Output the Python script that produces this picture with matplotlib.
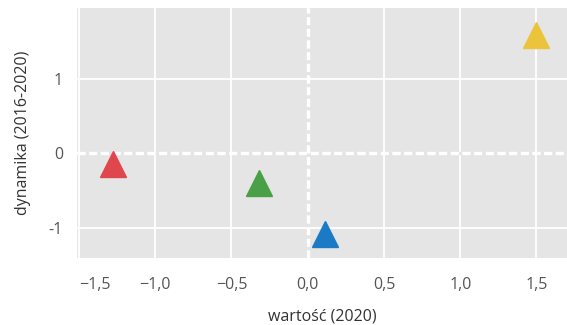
import matplotlib
matplotlib.use("Agg")
import matplotlib.pyplot as plt
from matplotlib.transforms import ScaledTranslation

plt.rcParams['font.family'] = ['Open Sans', 'DejaVu Sans']

# values
wartosc = [-1.28, -0.32, 0.11, 1.50]
dynamika = [-0.14, -0.40, -1.09, 1.59]
colors = ['#e0474c', '#4aa046', '#1a7ac6', '#ecc43c']

xticks = [-1.5, -1.0, -0.5, 0.0, 0.5, 1.0, 1.5]
xtick_labels = ['−1,5', '−1,0', '−0,5', '0,0', '0,5', '1,0', '1,5']
yticks = [-1, 0, 1]
ytick_labels = ['-1', '0', '1']

fig = plt.figure(figsize=(5.67, 3.25), dpi=100)
ax = fig.add_axes([77 / 567, 1 - 258 / 325, 490 / 567, 250 / 325])
ax.set_facecolor('#e5e5e5')

ax.set_xlim(-1.513, 1.70)
ax.set_ylim(-1.41, 1.96)

ax.set_xticks(xticks)
ax.set_xticklabels(xtick_labels)
ax.set_yticks(yticks)
ax.set_yticklabels(ytick_labels)
ax.grid(True, color='white', linewidth=1.3)
ax.set_axisbelow(True)
for s in ax.spines.values():
    s.set_visible(False)
ax.tick_params(axis='x', length=0, labelsize=11.5, labelcolor='#555555', pad=14)
ax.tick_params(axis='y', length=0, labelsize=11.5, labelcolor='#555555', pad=10)

# first x label sits a bit to the right in the original
lab = ax.get_xticklabels()[0]
lab.set_transform(lab.get_transform() + ScaledTranslation(0.16, 0, fig.dpi_scale_trans))

# dashed zero lines, gaps painted over the grid line underneath
ax.axhline(0, color='white', gapcolor='#e5e5e5', linewidth=2.4,
           linestyle=(0, (2.4, 1.1)), zorder=1.5)
ax.axvline(0, color='white', gapcolor='#e5e5e5', linewidth=2.4,
           linestyle=(0, (2.4, 1.1)), zorder=1.5)

for x, y, c in zip(wartosc, dynamika, colors):
    ax.plot(x, y, marker='^', markersize=19, color=c, linestyle='none', zorder=3)

ax.set_xlabel('wartość (2020)', fontsize=11.5, color='#333333', labelpad=11)
ax.set_ylabel('dynamika (2016-2020)', fontsize=11.5, color='#333333', labelpad=13)

fig.savefig('out.png', dpi=100)
